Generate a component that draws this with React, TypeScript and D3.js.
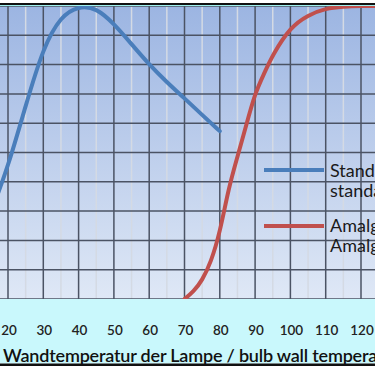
import React from "react";
import * as d3 from "d3";

const xTicks = [20, 30, 40, 50, 60, 70, 80, 90, 100, 110, 120];
const yGrid = [0, 10, 20, 30, 40, 50, 60, 70, 80, 90, 100];

const standardX = [15, 20, 25, 30, 35, 40, 45, 50, 55, 60, 65, 70, 75, 80];
const standardY = [29, 45, 66, 86, 96.6, 100, 99.4, 94, 87, 80, 74, 68.5, 62.8, 57.3];

const amalgamX = [70, 72.5, 75, 77.5, 80, 82.5, 85, 87.5, 90, 92.5, 95, 100, 105, 110, 115, 120, 125];
const amalgamY = [0, 2.4, 6.3, 12.6, 22.5, 37.9, 48.5, 59.4, 70.3, 76.8, 83.4, 92.8, 96.9, 99.2, 99.8, 100, 100];

const legendLabels = [
  ["Standardlampe", "standard lamp"],
  ["Amalgamlampe", "Amalgam lamp"],
];
const axisTitle = "Wandtemperatur der Lampe / bulb wall temperature [°C]";

const W = 375;
const H = 366;
const plotTop = 6;
const plotBottom = 299;

export default function App() {
  const x = d3.scaleLinear().domain([20, 120]).range([8, 361]);
  const y = d3.scaleLinear().domain([0, 100]).range([plotBottom, plotTop]);

  const line = d3
    .line<[number, number]>()
    .x((d) => x(d[0]))
    .y((d) => y(d[1]))
    .curve(d3.curveBasis);

  const stdPts = standardX.map((v, i) => [v, standardY[i]] as [number, number]);
  const amaPts = amalgamX.map((v, i) => [v, amalgamY[i]] as [number, number]);

  const minor = d3.range(5, 135, 10);
  const major = d3.range(10, 135, 10);

  const font = "Lato, 'Open Sans', sans-serif";

  return (
    <svg
      width={W}
      height={H}
      style={{ position: "absolute", left: 0, top: 0, display: "block" }}
    >
      <defs>
        <linearGradient id="bg" x1="0" y1="0" x2="0" y2="1">
          <stop offset="0%" stopColor="#9cb5e2" />
          <stop offset="100%" stopColor="#dfe8f6" />
        </linearGradient>
        <clipPath id="plotClip">
          <rect x={0} y={plotTop} width={W} height={plotBottom - plotTop} />
        </clipPath>
      </defs>
      <rect x={0} y={0} width={W} height={H} fill="#ffffff" />
      <rect x={0} y={plotTop} width={W} height={plotBottom - plotTop} fill="url(#bg)" />
      <rect x={0} y={plotBottom} width={W} height={363.5 - plotBottom} fill="#c9f8fc" />
      <rect x={0} y={363.5} width={W} height={2.5} fill="#111" />
      <rect x={0} y={3} width={W} height={2} fill="#111" />
      <rect x={0} y={5} width={W} height={1.5} fill="#9ff0ee" />

      <g clipPath="url(#plotClip)">
        {minor.map((v) => (
          <line key={"mi" + v} x1={x(v)} x2={x(v)} y1={plotTop} y2={plotBottom} stroke="#d4dae4" strokeWidth={1.5} />
        ))}
        {yGrid.map((v) => (
          <line key={"h" + v} x1={0} x2={W} y1={y(v)} y2={y(v)} stroke="#4b5364" strokeWidth={1.5} />
        ))}
        {major.map((v) => (
          <line key={"ma" + v} x1={x(v)} x2={x(v)} y1={plotTop} y2={plotBottom} stroke="#4b5364" strokeWidth={1.5} />
        ))}
        <path d={line(stdPts) || ""} fill="none" stroke="#4a7ebb" strokeWidth={4} strokeLinecap="round" />
        <path d={line(amaPts) || ""} fill="none" stroke="#c0504d" strokeWidth={4} strokeLinecap="round" />
      </g>

      <g fontFamily={font} fontSize={18} fill="#1a1a1a">
        <line x1={264} x2={324} y1={170} y2={170} stroke="#4a7ebb" strokeWidth={4} />
        <text x={330} y={177}>{legendLabels[0][0]}</text>
        <text x={330} y={197}>{legendLabels[0][1]}</text>
        <line x1={264} x2={324} y1={226} y2={226} stroke="#c0504d" strokeWidth={4} />
        <text x={330} y={232}>{legendLabels[1][0]}</text>
        <text x={330} y={252}>{legendLabels[1][1]}</text>
      </g>

      {xTicks.map((v) => (
        <text key={"t" + v} x={x(v) + 1} y={334.5} textAnchor="middle" fontFamily={font} fontSize={13.5} fontWeight={600} fill="#222">
          {v}
        </text>
      ))}
      <text x={3} y={362} fontFamily={font} fontSize={18} fontWeight={600} letterSpacing={-0.2} fill="#111">
        {axisTitle}
      </text>
    </svg>
  );
}
